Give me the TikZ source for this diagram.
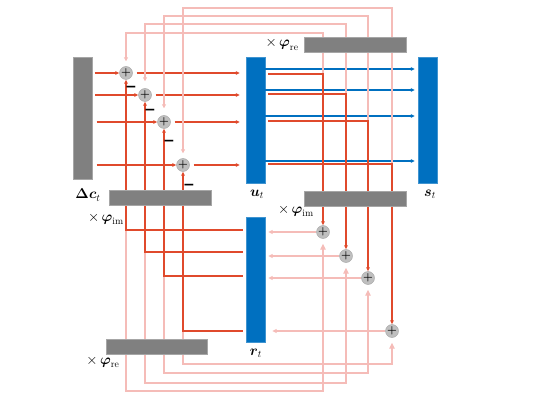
\documentclass[tikz,border=0pt]{standalone}
\usepackage{amsmath}
\usepackage{amssymb}
\usepackage{fontspec}
\usepackage{xcolor}
\usepackage{tikz}
\usetikzlibrary{arrows.meta,positioning}
\newfontfamily\signfont{DejaVu Sans}
\definecolor{barblue}{RGB}{0,112,192}
\definecolor{bargray}{RGB}{128,128,128}
\definecolor{sumgray}{RGB}{191,191,191}
\definecolor{flowred}{RGB}{224,74,44}
\definecolor{flowpink}{RGB}{245,188,184}

\begin{document}
\begin{tikzpicture}[
  x=1pt, y=-1pt,
  vbar/.style={fill=barblue, draw=barblue!75, minimum width=19pt, inner sep=0pt},
  gbar/.style={fill=bargray, draw=bargray!70, minimum width=102pt, minimum height=15pt, inner sep=0pt},
  sum/.style={circle, fill=sumgray, draw=sumgray!85!black, minimum size=13pt, inner sep=0pt,
              font=\fontsize{11}{11}\selectfont},
  lbl/.style={inner sep=1pt, font=\fontsize{14}{16}\selectfont},
  wlbl/.style={inner sep=1pt, font=\fontsize{14}{16}\selectfont},
  minus/.style={inner sep=0pt, font=\signfont\bfseries\fontsize{14}{14}\selectfont},
  redln/.style={flowred, line width=1.1pt},
  redarr/.style={redln, -{Triangle[length=4pt,width=3.6pt]}},
  pinkln/.style={flowpink, line width=1.1pt},
  pinkarr/.style={pinkln, -{Triangle[length=4.5pt,width=4pt]}},
  pinkup/.style={pinkln, -{Triangle[length=6pt,width=5.5pt]}, shorten >=5pt},
  bluearr/.style={barblue, line width=1.1pt, -{Triangle[length=4pt,width=3.6pt]}}
]
  \useasboundingbox (0,0) rectangle (534,411);

  % state bars
  \node[vbar, fill=bargray, draw=bargray!70, minimum height=122pt] (dc) at (82.5,118) {};
  \node[vbar, minimum height=126pt] (u) at (255.5,120) {};
  \node[vbar, minimum height=126pt] (s) at (427.5,120) {};
  \node[vbar, minimum height=125pt] (r) at (255.5,279.5) {};
  \coordinate (uo) at ([xshift=3pt]u.east);

  % adders
  \node[sum] (a1) at (126,73) {$\boldsymbol{+}$};
  \node[sum] (a2) at (145,95) {$\boldsymbol{+}$};
  \node[sum] (a3) at (164,122) {$\boldsymbol{+}$};
  \node[sum] (a4) at (183,165) {$\boldsymbol{+}$};
  \node[sum] (b1) at (323,232) {$\boldsymbol{+}$};
  \node[sum] (b2) at (346,256) {$\boldsymbol{+}$};
  \node[sum] (b3) at (368,278) {$\boldsymbol{+}$};
  \node[sum] (b4) at (392,331) {$\boldsymbol{+}$};

  % row levels
  \coordinate (yb1) at (0,69);  \coordinate (yb2) at (0,90);
  \coordinate (yb3) at (0,116); \coordinate (yb4) at (0,161);
  \coordinate (yu1) at (0,74);  \coordinate (yu2) at (0,94);
  \coordinate (yu3) at (0,121); \coordinate (yu4) at (0,164);
  \coordinate (yt1) at (0,33);  \coordinate (yt2) at (0,24);
  \coordinate (yt3) at (0,16);  \coordinate (yt4) at (0,8);
  \coordinate (yr1) at (0,230); \coordinate (yr2) at (0,252);
  \coordinate (yr3) at (0,276); \coordinate (yr4) at (0,331);
  \coordinate (yl1) at (0,391); \coordinate (yl2) at (0,383);
  \coordinate (yl3) at (0,373); \coordinate (yl4) at (0,364);

  % delta c into the adders
  \draw[redarr, shorten <=2.5pt] (dc.east |- a1) -- (a1);
  \draw[redarr, shorten <=3pt] (dc.east |- a2) -- (a2);
  \draw[redarr, shorten <=4.5pt] (dc.east |- a3) -- (a3);
  \draw[redarr, shorten <=4.5pt] (dc.east |- a4) -- (a4);

  % adders into u
  \draw[redarr, shorten <=4pt, shorten >=6pt] (a1) -- (a1 -| u.west);
  \draw[redarr, shorten <=4pt, shorten >=6pt] (a2) -- (a2 -| u.west);
  \draw[redarr, shorten <=4pt, shorten >=6pt] (a3) -- (a3 -| u.west);
  \draw[redarr, shorten <=4pt, shorten >=6pt] (a4) -- (a4 -| u.west);

  % u into s
  \draw[bluearr, shorten >=3pt] (u.east |- yb1) -- (s.west |- yb1);
  \draw[bluearr, shorten >=3pt] (u.east |- yb2) -- (s.west |- yb2);
  \draw[bluearr, shorten >=3pt] (u.east |- yb3) -- (s.west |- yb3);
  \draw[bluearr, shorten >=3pt] (u.east |- yb4) -- (s.west |- yb4);

  % u, times phi_re, back to the left adders
  \draw[pinkln, -{Triangle[length=4pt,width=4pt]}, shorten >=5pt] (b1 |- yu1) |- (a1 |- yt1) -- (a1);
  \draw[pinkln, -{Triangle[length=4pt,width=4pt]}, shorten >=7pt] (b2 |- yu2) |- (a2 |- yt2) -- (a2);
  \draw[pinkln, -{Triangle[length=4pt,width=4pt]}, shorten >=7pt] (b3 |- yu3) |- (a3 |- yt3) -- (a3);
  \draw[pinkln, -{Triangle[length=4pt,width=4pt]}, shorten >=5pt] (b4 |- yu4) |- (a4 |- yt4) -- (a4);

  % u, times phi_im, into the right adders
  \draw[redarr] (uo |- yu1) -| (b1);
  \draw[redarr] (uo |- yu2) -| (b2);
  \draw[redarr] (uo |- yu3) -| (b3);
  \draw[redarr] (uo |- yu4) -| (b4);

  % r, times phi_re, into the right adders
  \draw[pinkup] (a1 |- yr1) |- (b1 |- yl1) -- (b1);
  \draw[pinkup] (a2 |- yr2) |- (b2 |- yl2) -- (b2);
  \draw[pinkup] (a3 |- yr3) |- (b3 |- yl3) -- (b3);
  \draw[pinkup] (a4 |- yr4) |- (b4 |- yl4) -- (b4);

  % r, times phi_im, into the left adders
  \draw[redarr, shorten <=3pt] (r.west |- yr1) -| (a1);
  \draw[redarr, shorten <=3pt] (r.west |- yr2) -| (a2);
  \draw[redarr, shorten <=3pt] (r.west |- yr3) -| (a3);
  \draw[redarr, shorten <=3pt] (r.west |- yr4) -| (a4);

  % right adders into r
  \draw[pinkarr, shorten >=3pt] (b1) -- (b1 -| r.east);
  \draw[pinkarr, shorten >=3pt] (b2) -- (b2 -| r.east);
  \draw[pinkarr, shorten >=3pt] (b3) -- (b3 -| r.east);
  \draw[pinkarr, shorten >=7pt] (b4) -- (b4 -| r.east);

  % weight bars (over the wires)
  \node[gbar] (phiretop) at (355,44.5) {};
  \node[gbar] (phiimright) at (355,198.5) {};
  \node[gbar] (phiimleft) at (160,198) {};
  \node[gbar, minimum width=101pt] (phirebot) at (156.5,346.5) {};

  % signs
  \node[minus] (m1) at (131,89) {−};
  \node[minus] (m2) at (150,112) {−};
  \node[minus] (m3) at (169,143) {−};
  \node[minus] (m4) at (189,187) {−};

  % labels
  \node[lbl] (dclbl) at (88,195) {$\boldsymbol{\Delta c}_t$};
  \node[lbl] (ulbl) at (257,194) {$\boldsymbol{u}_t$};
  \node[lbl] (slbl) at (430,194) {$\boldsymbol{s}_t$};
  \node[lbl] (rlbl) at (256,353) {$\boldsymbol{r}_t$};
  \node[wlbl, left=4pt of phiretop] (retoplbl) {$\times\,\boldsymbol{\varphi}_{\mathrm{re}}$};
  \node[wlbl] (imleftlbl) at (106,219) {$\times\,\boldsymbol{\varphi}_{\mathrm{im}}$};
  \node[wlbl] (imrightlbl) at (296,211) {$\times\,\boldsymbol{\varphi}_{\mathrm{im}}$};
  \node[wlbl] (rebotlbl) at (103,362) {$\times\,\boldsymbol{\varphi}_{\mathrm{re}}$};
\end{tikzpicture}
\end{document}
